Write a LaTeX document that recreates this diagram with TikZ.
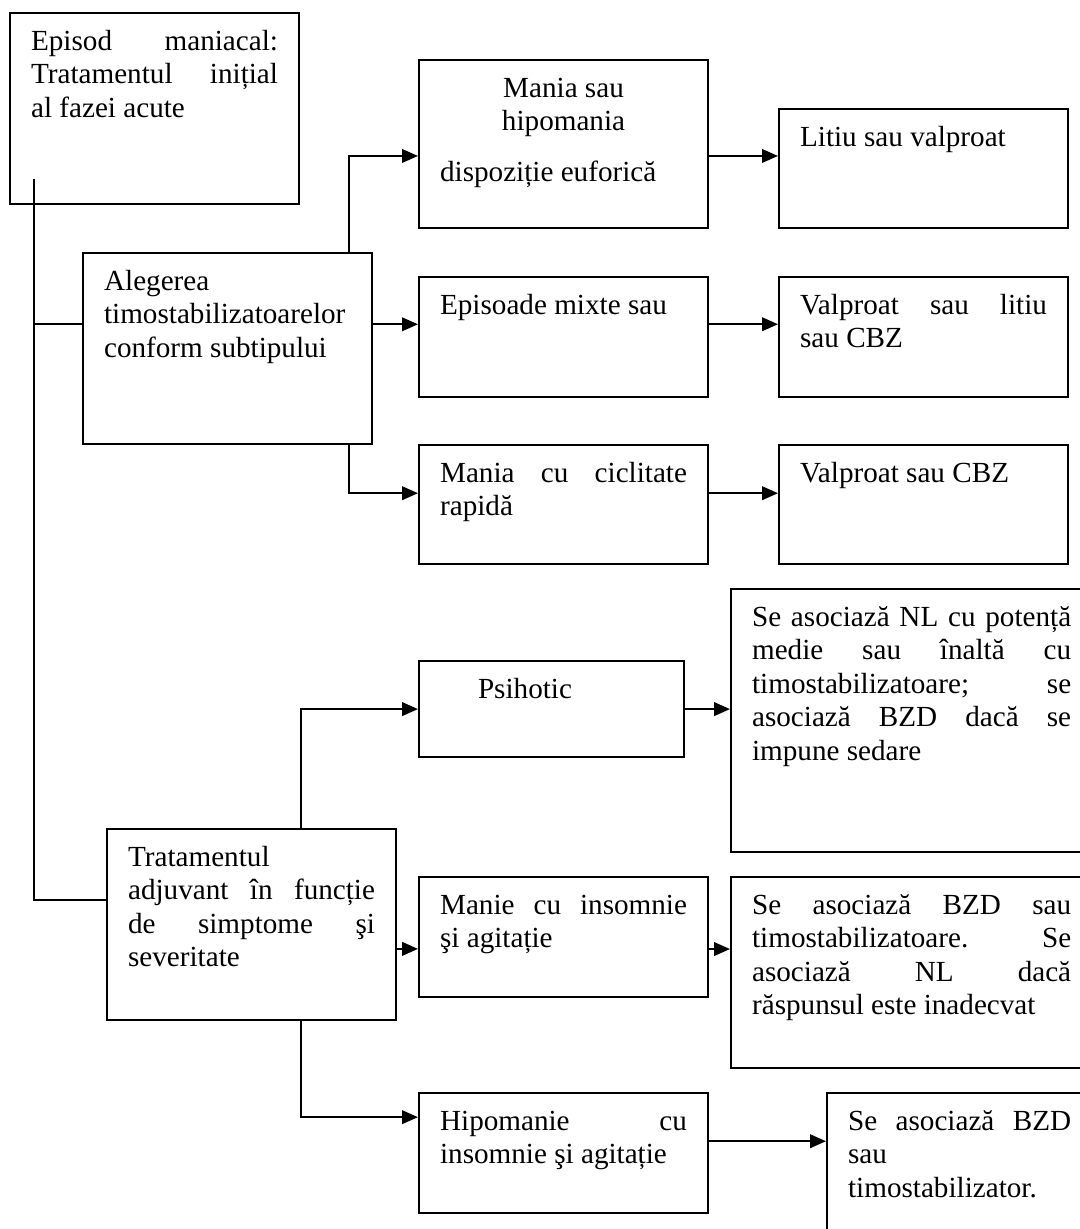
\documentclass[tikz,border=0pt]{standalone}
\usepackage{fontspec}
\setmainfont{Liberation Serif}
\usetikzlibrary{arrows.meta}
\hyphenpenalty=10000
\exhyphenpenalty=10000

\begin{document}
\begin{tikzpicture}[
    x=0.41152pt, y=-0.41152pt,
    box/.style={rectangle, draw, line width=0.9pt, anchor=north west, align=justify,
        inner xsep=8.64pt, inner ysep=3.4pt, text width=101.6pt, text height=11.8pt,
        font=\fontsize{12pt}{13.8pt}\selectfont},
    line/.style={line width=0.9pt},
    arrow/.style={line, -{Triangle[length=6.5pt,width=5.5pt]}}
]
\path[use as bounding box, fill=white] (0,0) rectangle (1079,1229);

% first column
\node[box, text depth=60pt] (episod) at (9,12) {Episod maniacal:\linebreak Tratamentul inițial\linebreak al fazei acute};
\node[box, text depth=60pt] (alegere) at (82,252) {Alegerea\newline timostabilizatoarelor\newline conform subtipului};
\node[box, text depth=60pt] (adjuvant) at (106,828) {Tratamentul\newline adjuvant în funcție\linebreak de simptome şi\linebreak severitate};

% subtypes
\node[box, text depth=50.5pt] (mania) at (418,59) {{\centering Mania sau\par hipomania\par}\vspace{7pt}dispoziție euforică};
\node[box, text depth=30.8pt] (mixte) at (418,276) {Episoade mixte sau};
\node[box, text depth=30.4pt] (ciclic) at (418,444) {Mania cu ciclitate\linebreak rapidă};
\node[box, text width=91.8pt, text depth=20.9pt] (psihotic) at (418,660) {\hspace*{15.6pt}Psihotic};
\node[box, text depth=30.8pt] (manieIns) at (418,876) {Manie cu insomnie\linebreak şi agitație};
\node[box, text depth=30.8pt] (hipoIns) at (418,1092) {Hipomanie cu\linebreak insomnie şi agitație};

% treatments
\node[box, text depth=30.4pt] (litiu) at (778,108) {Litiu sau valproat};
\node[box, text depth=30.8pt] (valpLitiu) at (778,276) {Valproat sau litiu\linebreak sau CBZ};
\node[box, text depth=30.4pt] (valpCbz) at (778,444) {Valproat sau CBZ};
\node[box, text width=131.3pt, text depth=89.6pt] (asocNL) at (730,588) {Se asociază NL cu potență\linebreak medie sau înaltă cu\linebreak timostabilizatoare; se\linebreak asociază BZD dacă se\linebreak impune sedare};
\node[box, text width=131.3pt, text depth=60pt] (asocBZD) at (730,876) {Se asociază BZD sau\linebreak timostabilizatoare. Se\linebreak asociază NL dacă\linebreak răspunsul este inadecvat};
\node[box, text width=91.8pt, text depth=51.4pt] (asocTimo) at (826,1092) {Se asociază BZD\linebreak sau\newline timostabilizator.};

% connectors
\coordinate (trunk) at (34,179);
\draw[line] (trunk) |- ([yshift=10pt]alegere.west);
\draw[line] (trunk) |- ([yshift=10pt]adjuvant.west);

\draw[arrow] ([xshift=-9.9pt]alegere.north east) |- ([yshift=-4.9pt]mania.west);
\draw[arrow] ([yshift=10pt]alegere.east) -- ([yshift=10pt]alegere.east -| mixte.west);
\draw[arrow] ([xshift=-9.9pt]alegere.south east) |- ([yshift=4.7pt]ciclic.west);
\draw[arrow] ([yshift=-4.9pt]mania.east) -- ([yshift=-4.9pt]mania.east -| litiu.west);
\draw[arrow] ([yshift=5.3pt]mixte.east) -- ([yshift=5.3pt]mixte.east -| valpLitiu.west);
\draw[arrow] ([yshift=4.7pt]ciclic.east) -- ([yshift=4.7pt]ciclic.east -| valpCbz.west);

\draw[arrow] ([xshift=-39.5pt]adjuvant.north east) |- (psihotic.west);
\draw[arrow] (psihotic.east) -- (psihotic.east -| asocNL.west);
\draw[arrow] ([yshift=-10pt]adjuvant.east) -- ([yshift=-10pt]adjuvant.east -| manieIns.west);
\draw[arrow] ([yshift=-4.9pt]manieIns.east) -- ([yshift=-4.9pt]manieIns.east -| asocBZD.west);
\draw[arrow] ([xshift=-39.5pt]adjuvant.south east) |- ([yshift=14.8pt]hipoIns.west);
\draw[arrow] ([yshift=4.9pt]hipoIns.east) -- ([yshift=4.9pt]hipoIns.east -| asocTimo.west);

\end{tikzpicture}
\end{document}
